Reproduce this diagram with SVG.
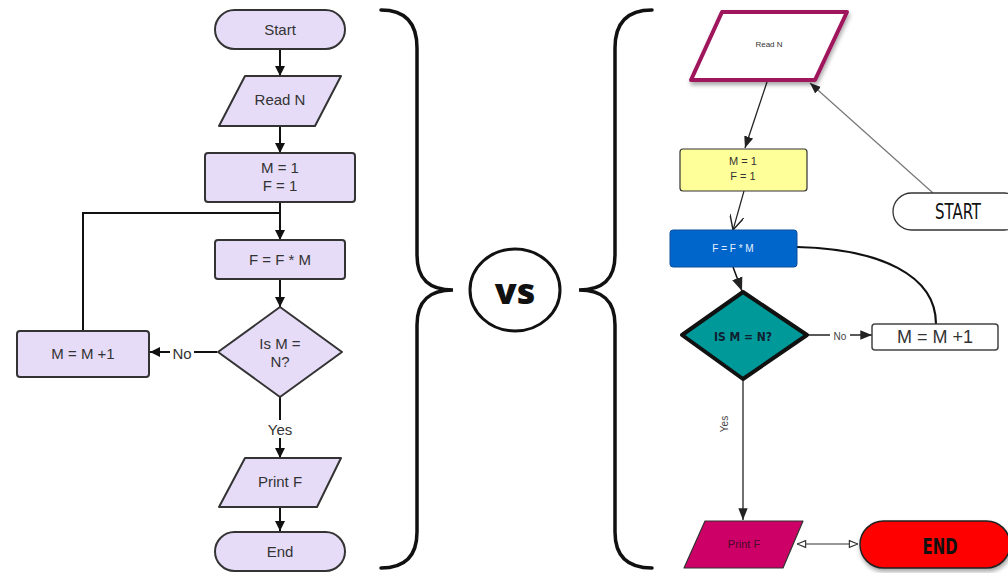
<svg xmlns="http://www.w3.org/2000/svg" width="1008" height="573" viewBox="0 0 1008 573">
<defs>
<style>
.lf{fill:#e6dcf8;stroke:#333;stroke-width:2}
.lt{font-family:"Liberation Sans",Arial,sans-serif;font-size:15px;fill:#333;text-anchor:middle;dominant-baseline:central}
.ln{fill:none;stroke:#111;stroke-width:2}
.brace{fill:none;stroke:#111;stroke-width:3.5;stroke-linecap:round}
.hand{font-family:"DejaVu Sans","Liberation Sans",sans-serif;font-stretch:condensed;text-anchor:middle;dominant-baseline:central}
.rt{font-family:"Liberation Sans",Arial,sans-serif;text-anchor:middle;dominant-baseline:central}
</style>
<marker id="af" viewBox="0 0 10 10" refX="10" refY="5" markerWidth="5" markerHeight="5" orient="auto" markerUnits="strokeWidth"><path d="M0,0 L10,5 L0,10 Z" fill="#111"/></marker>
<marker id="ag" viewBox="0 0 10 10" refX="10" refY="5" markerWidth="9" markerHeight="9" orient="auto" markerUnits="strokeWidth"><path d="M0,1 L10,5 L0,9 Z" fill="#222"/></marker>
<marker id="av" viewBox="0 0 10 10" refX="10" refY="5" markerWidth="12" markerHeight="12" orient="auto" markerUnits="strokeWidth"><path d="M0,0 L10,5 L0,10" fill="none" stroke="#222" stroke-width="1"/></marker>
<marker id="ao" viewBox="0 0 10 10" refX="10" refY="5" markerWidth="8" markerHeight="8" orient="auto-start-reverse" markerUnits="strokeWidth"><path d="M1,1.5 L10,5 L1,8.5 Z" fill="#fff" stroke="#333" stroke-width="1.2"/></marker>
<filter id="sh" x="-20%" y="-20%" width="140%" height="150%"><feDropShadow dx="1" dy="3" stdDeviation="2" flood-color="#000" flood-opacity="0.35"/></filter>
</defs>
<rect width="1008" height="573" fill="#fff"/>

<!-- braces and vs -->
<g id="braces">
<path class="brace" d="M381,10 Q417,10 417,48 L417,255 C417,280 430,290 453,290 C430,290 417,300 417,325 L417,532 Q417,568 381,568"/>
<path class="brace" d="M652,10 Q615,10 615,48 L615,255 C615,280 602,290 579,290 C602,290 615,300 615,325 L615,532 Q615,568 652,568"/>
</g>
<g id="vs">
<ellipse cx="515" cy="290" rx="45" ry="41" fill="#fff" stroke="#111" stroke-width="3"/>
<text x="515" y="290" font-family="'Open Sans','Liberation Sans',sans-serif" font-weight="800" font-size="36" text-anchor="middle" dominant-baseline="central" fill="#111">vs</text>
</g>

<!-- left connectors -->
<g id="left-connectors">
<line class="ln" x1="280" y1="49" x2="280" y2="76" marker-end="url(#af)"/>
<line class="ln" x1="280" y1="126" x2="280" y2="153" marker-end="url(#af)"/>
<line class="ln" x1="280" y1="202" x2="280" y2="240" marker-end="url(#af)"/>
<polyline class="ln" points="83,331 83,213 280,213"/>
<line class="ln" x1="280" y1="279" x2="280" y2="307" marker-end="url(#af)"/>
<line class="ln" x1="217" y1="352" x2="150" y2="352" marker-end="url(#af)"/>
<rect x="170" y="343" width="24" height="18" fill="#fff"/>
<text class="lt" x="182" y="353">No</text>
<line class="ln" x1="280" y1="397" x2="280" y2="458" marker-end="url(#af)"/>
<rect x="265" y="420" width="30" height="18" fill="#fff"/>
<text class="lt" x="280" y="429">Yes</text>
<line class="ln" x1="280" y1="507" x2="280" y2="531" marker-end="url(#af)"/>
</g>

<!-- left nodes -->
<g id="l-start"><rect class="lf" x="215" y="10" width="130" height="39" rx="19.5"/><text class="lt" x="280" y="29">Start</text></g>
<g id="l-readn"><polygon class="lf" points="245,76 341,76 315,126 219,126" stroke-linejoin="round"/><text class="lt" x="280" y="99">Read N</text></g>
<g id="l-init"><rect class="lf" x="205" y="153" width="150" height="49" rx="3"/><text class="lt" x="280" y="167">M = 1</text><text class="lt" x="280" y="185">F = 1</text></g>
<g id="l-mult"><rect class="lf" x="215" y="240" width="130" height="39" rx="3"/><text class="lt" x="280" y="259">F = F * M</text></g>
<g id="l-dec"><polygon class="lf" points="280,307 342,352 280,397 218,352" stroke-linejoin="round"/><text class="lt" x="280" y="343">Is M =</text><text class="lt" x="280" y="361">N?</text></g>
<g id="l-inc"><rect class="lf" x="17" y="331" width="132" height="46" rx="3"/><text class="lt" x="83" y="353">M = M +1</text></g>
<g id="l-print"><polygon class="lf" points="245,458 341,458 317,507 219,507" stroke-linejoin="round"/><text class="lt" x="280" y="481">Print F</text></g>
<g id="l-end"><rect class="lf" x="215" y="532" width="130" height="39" rx="19.5"/><text class="lt" x="280" y="551">End</text></g>

<!-- right connectors -->
<g id="right-connectors">
<line x1="933" y1="193" x2="810" y2="83" stroke="#777" stroke-width="1.2" marker-end="url(#ag)"/>
<line x1="767" y1="82" x2="745" y2="148" stroke="#222" stroke-width="1.3" marker-end="url(#ag)"/>
<line x1="744" y1="191" x2="733" y2="230" stroke="#222" stroke-width="1.2" marker-end="url(#av)"/>
<line x1="733" y1="267" x2="742" y2="291" stroke="#111" stroke-width="1.5" marker-end="url(#ag)"/>
<path d="M797,247 C880,249 936,275 936,324" fill="none" stroke="#111" stroke-width="2.2"/>
<line x1="807" y1="335" x2="872" y2="335" stroke="#222" stroke-width="1.3" marker-end="url(#ag)"/>
<rect x="830" y="329" width="20" height="12" fill="#fff"/>
<text class="rt" x="840" y="336" font-size="10" fill="#444">No</text>
<line x1="743" y1="379" x2="743" y2="520" stroke="#222" stroke-width="1.3" marker-end="url(#ag)"/>
<text class="rt" x="0" y="0" font-size="10" fill="#444" transform="translate(724,424) rotate(-90)">Yes</text>
<line x1="797" y1="544" x2="858" y2="544" stroke="#333" stroke-width="1.2" marker-start="url(#ao)" marker-end="url(#ao)"/>
</g>

<!-- right nodes -->
<g id="r-readn"><polygon points="722,12 847,12 815,80 691,80" fill="#fff" stroke="#a0125c" stroke-width="4" stroke-linejoin="round" filter="url(#sh)"/><text class="rt" x="769" y="44" font-size="8" fill="#333">Read N</text></g>
<g id="r-start"><rect x="893" y="193" width="130" height="37" rx="18.5" fill="#fff" stroke="#333" stroke-width="1.3"/><text class="hand" x="958" y="212" font-size="21" fill="#111" textLength="46" lengthAdjust="spacingAndGlyphs">START</text></g>
<g id="r-init"><rect x="680" y="149" width="127" height="42" rx="3" fill="#ffff99" stroke="#333" stroke-width="1.2"/><text class="rt" x="743" y="161" font-size="11" fill="#333">M = 1</text><text class="rt" x="743" y="176" font-size="11" fill="#333">F = 1</text></g>
<g id="r-mult"><rect x="670" y="230" width="127" height="37" rx="3" fill="#0066cc" stroke="#0a4f9a" stroke-width="1"/><text class="rt" x="733" y="248" font-size="10" fill="#e8f0ff">F = F * M</text></g>
<g id="r-dec"><polygon points="743,292 807,335 743,379 682,335" fill="#009999" stroke="#111" stroke-width="4" stroke-linejoin="round"/><text class="hand" x="743" y="336" font-size="13" font-weight="bold" fill="#102030" textLength="58" lengthAdjust="spacingAndGlyphs">IS M = N?</text></g>
<g id="r-inc"><rect x="872" y="324" width="126" height="26" rx="3" fill="#fff" stroke="#444" stroke-width="1.5"/><text class="rt" x="935" y="337" font-size="18" fill="#333">M = M +1</text></g>
<g id="r-print"><polygon points="705,521 803,521 783,568 684,568" fill="#cc0066" stroke="#333" stroke-width="1.2" stroke-linejoin="round"/><text class="rt" x="744" y="544" font-size="11" fill="#4a0a2a">Print F</text></g>
<g id="r-end"><rect x="860" y="521" width="150" height="47" rx="23.5" fill="#ff0000" stroke="#222" stroke-width="1.5" filter="url(#sh)"/><text class="hand" x="940" y="546" font-size="22" font-weight="bold" fill="#111" textLength="35" lengthAdjust="spacingAndGlyphs">END</text></g>
</svg>
